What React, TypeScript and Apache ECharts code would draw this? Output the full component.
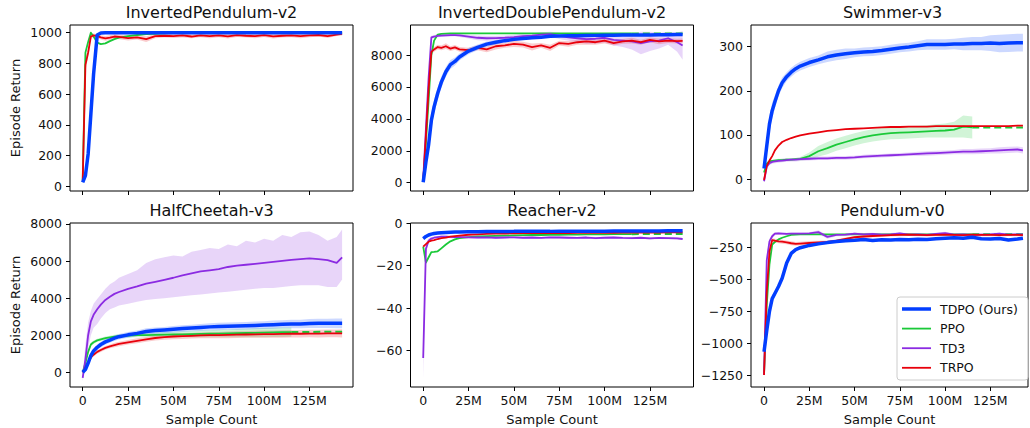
import React, { useEffect, useRef } from "react";
import * as echarts from "echarts";

// ---------- data ----------
const X = [0, 1.5, 3, 4.5, 6, 8, 10, 12.5, 15, 17.5, 20, 25, 30, 35, 40, 45, 50, 55, 60, 65, 70, 75, 80, 85, 90, 95, 100, 105, 110, 115, 120, 125, 130, 135, 140, 143];
const X_END = 143;
const X_TICKS = [0, 25, 50, 75, 100, 125];

const TITLES = ["InvertedPendulum-v2", "InvertedDoublePendulum-v2", "Swimmer-v3", "HalfCheetah-v3", "Reacher-v2", "Pendulum-v0"];
const SERIES_NAMES = ["TDPO (Ours)", "PPO", "TD3", "TRPO"];
const Y_LABEL = "Episode Return";
const X_LABEL = "Sample Count";

const Y_TICKS_1 = [0, 200, 400, 600, 800, 1000];
const Y_TICKS_2 = [0, 2000, 4000, 6000, 8000];
const Y_TICKS_3 = [0, 100, 200, 300];
const Y_TICKS_4 = [0, 2000, 4000, 6000, 8000];
const Y_TICKS_5 = [-60, -40, -20, 0];
const Y_TICKS_6 = [-1250, -1000, -750, -500, -250];

// InvertedPendulum-v2
const P1_TDPO = [25, 70, 210, 470, 730, 985, 998, 1000, 1000, 1000, 1000, 1000, 1000, 1000, 1000, 1000, 1000, 1000, 1000, 1000, 1000, 1000, 1000, 1000, 1000, 1000, 1000, 1000, 1000, 1000, 1000, 1000, 1000, 1000, 1000, 1000];
const P1_PPO = [40, 870, 940, 1000, 975, 935, 925, 930, 945, 958, 968, 978, 985, 990, 993, 995, 997, 998, 999, 1000, 1000, 1000, 1000, 1000, 1000, 1000, 1000, 1000, 1000, 1000];
const P1_PPO_TAIL = 1000;
const P1_TRPO = [30, 790, 870, 975, 982, 978, 970, 963, 968, 975, 972, 965, 970, 958, 978, 980, 978, 982, 975, 983, 978, 982, 976, 984, 980, 978, 984, 976, 980, 983, 978, 982, 985, 978, 988, 992];
const P1_TRPO_SD = [10, 40, 30, 15, 12, 12, 14, 15, 15, 14, 14, 16, 15, 18, 14, 12, 12, 14, 12, 12, 14, 12, 14, 12, 12, 14, 12, 14, 12, 12, 14, 12, 10, 12, 10, 10];

// InvertedDoublePendulum-v2
const P2_TDPO = [25, 1300, 2400, 3900, 4750, 5600, 6300, 6950, 7400, 7600, 7880, 8250, 8480, 8680, 8800, 8900, 8980, 9040, 9080, 9120, 9170, 9190, 9200, 9210, 9220, 9230, 9240, 9240, 9250, 9250, 9260, 9260, 9270, 9270, 9280, 9280];
const P2_TDPO_SD = [50, 400, 500, 500, 450, 400, 350, 300, 280, 250, 220, 200, 180, 160, 140, 120, 100, 90, 80, 70, 60, 60, 60, 60, 60, 60, 60, 60, 60, 60, 60, 60, 60, 60, 60, 60];
const P2_PPO = [100, 2500, 5200, 8000, 8900, 9280, 9330, 9340, 9350, 9350, 9350, 9350, 9350, 9350, 9350, 9350, 9350, 9350, 9350, 9350, 9350, 9350, 9350, 9350, 9350, 9350, 9350, 9350, 9350, 9350];
const P2_PPO_TAIL = 9350;
const P2_TD3 = [200, 3400, 6600, 9100, 9150, 9200, 9220, 9230, 9240, 9250, 9230, 9150, 9080, 9050, 9060, 9080, 9120, 9180, 9220, 9280, 9300, 9200, 9100, 9050, 9000, 9020, 9080, 8950, 8900, 8850, 8750, 8850, 8900, 9050, 8800, 8600];
const P2_TD3_SD = [100, 300, 200, 100, 100, 80, 80, 80, 80, 80, 100, 120, 150, 150, 150, 150, 150, 150, 150, 150, 150, 200, 200, 250, 300, 300, 300, 350, 400, 500, 700, 600, 500, 400, 600, 900];
const P2_TRPO = [50, 2950, 5900, 8200, 8350, 8500, 8450, 8550, 8400, 8480, 8350, 8300, 8450, 8350, 8550, 8600, 8700, 8650, 8500, 8600, 8450, 8750, 8700, 8800, 8850, 8800, 8900, 8750, 8850, 8900, 8800, 8950, 8850, 8900, 8870, 8880];
const P2_TRPO_SD = [50, 300, 300, 150, 150, 150, 150, 180, 150, 150, 150, 150, 150, 180, 200, 150, 200, 180, 220, 150, 200, 150, 180, 150, 200, 150, 180, 150, 150, 180, 150, 150, 180, 150, 150, 150];

// Swimmer-v3
const P3_TDPO = [24, 75, 125, 155, 175, 200, 218, 232, 242, 250, 256, 264, 270, 277, 281, 284, 286, 288, 289, 291, 294, 297, 299, 302, 305, 305, 305, 306, 306, 307, 307, 308, 307, 308, 309, 309];
const P3_TDPO_SD = [3, 20, 20, 18, 15, 12, 12, 10, 10, 10, 10, 10, 10, 12, 12, 12, 10, 10, 10, 10, 10, 10, 10, 10, 12, 12, 12, 12, 14, 15, 15, 18, 20, 20, 20, 20];
const P3_PPO = [15, 35, 40, 41, 42, 43, 43, 44, 44, 45, 46, 52, 63, 70, 78, 84, 90, 95, 99, 102, 104, 105, 106, 107, 108, 109, 110, 112, 119, 117];
const P3_PPO_SD = [3, 5, 4, 3, 3, 3, 3, 3, 3, 3, 4, 8, 12, 14, 14, 14, 14, 14, 14, 14, 14, 14, 14, 14, 14, 15, 16, 18, 25, 25];
const P3_PPO_TAIL = 117;
const P3_TD3 = [-5, 28, 36, 39, 40, 41, 42, 43, 44, 44, 45, 46, 47, 47, 48, 48, 49, 51, 52, 53, 54, 55, 56, 57, 58, 59, 60, 61, 62, 62, 63, 64, 65, 66, 67, 65];
const P3_TD3_SD = [3, 4, 4, 4, 4, 4, 4, 4, 4, 4, 4, 4, 4, 4, 4, 4, 4, 4, 4, 4, 4, 4, 4, 5, 5, 5, 5, 5, 6, 6, 6, 6, 7, 7, 7, 7];
const P3_TRPO = [-2, 30, 42, 52, 65, 76, 84, 89, 93, 96, 99, 103, 106, 109, 111, 113, 114, 115, 116, 117, 118, 118, 119, 119, 119, 120, 120, 120, 120, 120, 120, 120, 120, 120, 121, 121];

// HalfCheetah-v3
const P4_TDPO = [0, 150, 500, 900, 1150, 1350, 1500, 1640, 1740, 1840, 1920, 2020, 2100, 2200, 2250, 2280, 2320, 2360, 2390, 2420, 2450, 2470, 2490, 2500, 2510, 2530, 2550, 2570, 2590, 2600, 2610, 2630, 2640, 2640, 2640, 2640];
const P4_TDPO_SD = [20, 80, 150, 150, 150, 150, 150, 150, 150, 150, 150, 160, 160, 170, 170, 170, 180, 180, 180, 190, 190, 200, 200, 200, 200, 210, 210, 220, 220, 230, 230, 240, 250, 250, 260, 260];
const P4_PPO = [0, 500, 1100, 1500, 1620, 1720, 1780, 1840, 1880, 1920, 1950, 1980, 2000, 2010, 2020, 2030, 2040, 2050, 2060, 2070, 2080, 2090, 2100, 2110, 2120, 2130, 2140, 2150, 2160, 2170];
const P4_PPO_SD = [20, 80, 100, 100, 100, 90, 90, 90, 90, 100, 100, 100, 110, 120, 130, 140, 150, 160, 170, 180, 190, 200, 210, 220, 230, 240, 250, 250, 250, 250];
const P4_PPO_TAIL = 2190;
const P4_TD3 = [-300, 700, 2000, 2750, 3100, 3400, 3650, 3900, 4080, 4230, 4330, 4500, 4630, 4780, 4880, 4990, 5100, 5230, 5330, 5440, 5500, 5570, 5680, 5750, 5800, 5850, 5900, 5960, 6010, 6060, 6100, 6150, 6100, 6050, 5900, 6200];
const P4_TD3_LO = [-500, 500, 1300, 2000, 2400, 2600, 2900, 3200, 3400, 3500, 3600, 3700, 3800, 3900, 3950, 4000, 4050, 4100, 4150, 4200, 4250, 4300, 4350, 4400, 4450, 4500, 4550, 4550, 4600, 4650, 4700, 4700, 4700, 4600, 4600, 5000];
const P4_TD3_HI = [-100, 1500, 2700, 3300, 3700, 3950, 4200, 4500, 4750, 4900, 5100, 5300, 5500, 5900, 6100, 6200, 6300, 6250, 6500, 6600, 6700, 6650, 6900, 6800, 7100, 7000, 7200, 7100, 7400, 7300, 7550, 7600, 7400, 7100, 7300, 7700];
const P4_TRPO = [0, 250, 550, 800, 950, 1100, 1200, 1320, 1400, 1470, 1530, 1620, 1700, 1780, 1850, 1900, 1930, 1950, 1970, 1990, 2000, 2010, 2020, 2030, 2040, 2050, 2060, 2060, 2070, 2080, 2080, 2090, 2090, 2100, 2100, 2100];
const P4_TRPO_SD = [20, 60, 100, 100, 100, 100, 100, 100, 100, 120, 120, 120, 130, 130, 140, 140, 150, 150, 150, 160, 160, 170, 180, 180, 180, 190, 190, 200, 200, 200, 200, 200, 210, 210, 210, 220];

// Reacher-v2
const P5_TDPO = [-7.2, -6.2, -5.5, -5.1, -4.8, -4.6, -4.4, -4.3, -4.2, -4.1, -4.1, -4.0, -4.0, -3.9, -3.9, -3.9, -3.8, -3.8, -3.8, -3.8, -3.8, -3.7, -3.7, -3.7, -3.7, -3.7, -3.7, -3.6, -3.6, -3.6, -3.6, -3.6, -3.6, -3.5, -3.5, -3.5];
const P5_PPO = [-11, -18.5, -16, -13.6, -13.5, -13.2, -11.8, -10, -8.5, -7.6, -7.0, -6.5, -6.2, -6.0, -5.9, -5.8, -5.7, -5.6, -5.5, -5.5, -5.4, -5.4, -5.3, -5.3, -5.2, -5.2, -5.2, -5.1, -5.1, -5.1];
const P5_PPO_TAIL = -5.0;
const P5_TD3 = [-63.5, -12, -8.2, -7.2, -6.8, -6.5, -6.3, -6.3, -6.4, -6.5, -6.5, -6.6, -6.7, -6.6, -6.8, -6.7, -6.6, -6.8, -6.7, -6.9, -6.6, -6.7, -6.8, -6.9, -6.7, -7.0, -6.8, -6.7, -6.9, -7.0, -6.8, -7.1, -6.9, -7.0, -7.1, -7.4];
const P5_TD3_SD = [10, 3, 1, 0.6, 0.5, 0.5, 0.5, 0.5, 0.5, 0.5, 0.5, 0.5, 0.5, 0.5, 0.5, 0.5, 0.5, 0.5, 0.5, 0.5, 0.5, 0.5, 0.5, 0.5, 0.5, 0.5, 0.5, 0.5, 0.5, 0.5, 0.5, 0.5, 0.5, 0.5, 0.5, 0.5];
const P5_TRPO = [-11, -9.8, -8.7, -8.2, -7.9, -7.4, -7.0, -6.7, -6.3, -6.0, -5.8, -5.4, -5.2, -5.0, -4.9, -4.8, -4.7, -4.6, -4.6, -4.6, -4.6, -4.6, -4.6, -4.5, -4.5, -4.5, -4.5, -4.5, -4.4, -4.4, -4.4, -4.4, -4.4, -4.3, -4.3, -4.3];

// Pendulum-v0
const P6_TDPO = [-1067, -900, -750, -650, -610, -555, -490, -370, -295, -265, -250, -232, -220, -210, -202, -196, -192, -186, -194, -188, -190, -185, -188, -183, -186, -180, -176, -172, -176, -168, -180, -182, -178, -190, -182, -175];
const P6_TDPO_SD = [20, 30, 30, 30, 25, 20, 20, 15, 15, 12, 12, 10, 10, 10, 10, 10, 10, 10, 10, 10, 10, 10, 10, 10, 10, 10, 10, 10, 10, 10, 10, 10, 10, 10, 10, 10];
const P6_PPO = [-1240, -700, -380, -225, -205, -185, -172, -160, -150, -147, -146, -145, -145, -145, -145, -145, -145, -145, -145, -145, -145, -145, -145, -145, -145, -145, -145, -145, -145, -145];
const P6_PPO_TAIL = -145;
const P6_TD3 = [-1250, -350, -200, -160, -140, -138, -140, -142, -140, -140, -140, -138, -128, -165, -150, -148, -140, -145, -142, -148, -145, -138, -148, -145, -150, -142, -135, -148, -145, -150, -148, -145, -140, -148, -145, -145];
const P6_TD3_SD = [20, 40, 20, 15, 12, 10, 10, 10, 10, 10, 10, 10, 15, 15, 10, 10, 10, 10, 10, 10, 10, 10, 10, 10, 10, 10, 10, 10, 10, 10, 10, 10, 10, 10, 10, 10];
const P6_TRPO = [-1250, -600, -280, -190, -195, -200, -203, -208, -215, -220, -218, -213, -208, -205, -195, -180, -168, -162, -158, -155, -152, -150, -148, -150, -152, -150, -148, -150, -152, -148, -150, -150, -152, -150, -150, -152];
const P6_TRPO_SD = [30, 30, 20, 15, 15, 15, 15, 15, 15, 15, 15, 15, 12, 12, 10, 10, 10, 10, 10, 10, 10, 10, 10, 10, 10, 10, 10, 10, 10, 10, 10, 10, 10, 10, 10, 10];

// ---------- styling / layout ----------
const C_BLUE = "#023eff";
const C_GREEN = "#1ac938";
const C_PURPLE = "#8b2be2";
const C_RED = "#e8000b";
const FONT = "DejaVu Sans";
const TXT = "#111";

type Band = { lo: number[]; hi: number[] } | null;
type Panel = {
  title: string;
  left: number; top: number; width: number; height: number; center: number;
  xMin: number; xMax: number; yMin: number; yMax: number;
  yTicks: number[];
  tdpo: number[]; tdpoBand: Band;
  ppo: number[]; ppoBand: Band; ppoTail: number;
  td3: number[] | null; td3Band: Band;
  trpo: number[]; trpoBand: Band;
};

const sdBand = (v: number[], sd: number[] | null): Band =>
  sd ? { lo: v.map((y, i) => y - sd[i]), hi: v.map((y, i) => y + sd[i]) } : null;

const PANELS: Panel[] = [
  { title: TITLES[0], left: 70, top: 25, width: 283, height: 166, center: 211.5, xMin: -7, xMax: 149, yMin: -31, yMax: 1050, yTicks: Y_TICKS_1,
    tdpo: P1_TDPO, tdpoBand: null, ppo: P1_PPO, ppoBand: null, ppoTail: P1_PPO_TAIL, td3: null, td3Band: null,
    trpo: P1_TRPO, trpoBand: sdBand(P1_TRPO, P1_TRPO_SD) },
  { title: TITLES[1], left: 410.5, top: 25, width: 283, height: 166, center: 552, xMin: -7, xMax: 149, yMin: -520, yMax: 9880, yTicks: Y_TICKS_2,
    tdpo: P2_TDPO, tdpoBand: sdBand(P2_TDPO, P2_TDPO_SD), ppo: P2_PPO, ppoBand: null, ppoTail: P2_PPO_TAIL,
    td3: P2_TD3, td3Band: sdBand(P2_TD3, P2_TD3_SD), trpo: P2_TRPO, trpoBand: sdBand(P2_TRPO, P2_TRPO_SD) },
  { title: TITLES[2], left: 751, top: 25, width: 277, height: 166, center: 892.5, xMin: -7.2, xMax: 145.8, yMin: -27, yMax: 349, yTicks: Y_TICKS_3,
    tdpo: P3_TDPO, tdpoBand: sdBand(P3_TDPO, P3_TDPO_SD), ppo: P3_PPO, ppoBand: sdBand(P3_PPO, P3_PPO_SD), ppoTail: P3_PPO_TAIL,
    td3: P3_TD3, td3Band: sdBand(P3_TD3, P3_TD3_SD), trpo: P3_TRPO, trpoBand: null },
  { title: TITLES[3], left: 70, top: 223, width: 283, height: 164, center: 211.5, xMin: -7, xMax: 149, yMin: -793, yMax: 8053, yTicks: Y_TICKS_4,
    tdpo: P4_TDPO, tdpoBand: sdBand(P4_TDPO, P4_TDPO_SD), ppo: P4_PPO, ppoBand: sdBand(P4_PPO, P4_PPO_SD), ppoTail: P4_PPO_TAIL,
    td3: P4_TD3, td3Band: { lo: P4_TD3_LO, hi: P4_TD3_HI }, trpo: P4_TRPO, trpoBand: sdBand(P4_TRPO, P4_TRPO_SD) },
  { title: TITLES[4], left: 410.5, top: 223, width: 283, height: 164, center: 552, xMin: -7, xMax: 149, yMin: -77.2, yMax: 0.15, yTicks: Y_TICKS_5,
    tdpo: P5_TDPO, tdpoBand: null, ppo: P5_PPO, ppoBand: null, ppoTail: P5_PPO_TAIL,
    td3: P5_TD3, td3Band: sdBand(P5_TD3, P5_TD3_SD), trpo: P5_TRPO, trpoBand: null },
  { title: TITLES[5], left: 751, top: 223, width: 277, height: 164, center: 892.5, xMin: -7.2, xMax: 145.8, yMin: -1344, yMax: -56, yTicks: Y_TICKS_6,
    tdpo: P6_TDPO, tdpoBand: sdBand(P6_TDPO, P6_TDPO_SD), ppo: P6_PPO, ppoBand: null, ppoTail: P6_PPO_TAIL,
    td3: P6_TD3, td3Band: sdBand(P6_TD3, P6_TD3_SD), trpo: P6_TRPO, trpoBand: sdBand(P6_TRPO, P6_TRPO_SD) },
];

const fmtY = (v: number) => (v < 0 ? "\u2212" + Math.abs(v) : String(v));
const fmtX = (v: number) => (v === 0 ? "0" : v + "M");

function lineSeries(gi: number, ys: number[], color: string, width: number, z: number, dashed = false, xs: number[] = X) {
  return {
    type: "line", xAxisIndex: gi, yAxisIndex: gi, z, silent: true,
    symbol: "none", showSymbol: false, animation: false,
    data: ys.map((y, i) => [xs[i], y]),
    lineStyle: { color, width, type: dashed ? [7, 4] : "solid", cap: "butt", join: "round" },
    itemStyle: { color },
  };
}

// shaded band: one polygon through the axes' own coordinate transform
function bandSeries(gi: number, band: Band, color: string, opacity = 0.2) {
  if (!band) return [];
  const xs = X.slice(0, band.lo.length);
  const data = xs.map((x, i) => [x, band.lo[i], band.hi[i]]);
  return [{
    type: "custom", xAxisIndex: gi, yAxisIndex: gi, z: 1, silent: true, animation: false,
    encode: { x: 0, y: [1, 2] },
    data,
    renderItem: (params: any, api: any) => {
      if (params.dataIndex !== 0) return null;
      const upper = data.map((d) => api.coord([d[0], d[2]]));
      const lower = data.map((d) => api.coord([d[0], d[1]])).reverse();
      const cs = params.coordSys;
      return {
        type: "polygon",
        shape: { points: upper.concat(lower) },
        style: { fill: color, opacity, stroke: "none" },
        clipPath: { type: "rect", shape: { x: cs.x, y: cs.y, width: cs.width, height: cs.height } },
      };
    },
  }];
}

function buildOption() {
  const series: any[] = [];
  PANELS.forEach((p, gi) => {
    series.push(...bandSeries(gi, p.ppoBand, C_GREEN));
    series.push(...bandSeries(gi, p.td3Band, C_PURPLE));
    series.push(...bandSeries(gi, p.trpoBand, C_RED));
    series.push(...bandSeries(gi, p.tdpoBand, C_BLUE));
    const n = p.ppo.length;
    series.push(lineSeries(gi, p.ppo, C_GREEN, 1.8, 3, false, X.slice(0, n)));
    series.push(lineSeries(gi, [p.ppo[n - 1], p.ppoTail], C_GREEN, 2, 3, true, [X[n - 1], X_END]));
    if (p.td3) series.push(lineSeries(gi, p.td3, C_PURPLE, 1.8, 4));
    series.push(lineSeries(gi, p.trpo, C_RED, 1.8, 5));
    series.push(lineSeries(gi, p.tdpo, C_BLUE, 3.5, 6));
  });

  const legendX = 897, legendY = 297;
  const colors = [C_BLUE, C_GREEN, C_PURPLE, C_RED];
  const widths = [3.5, 1.8, 1.8, 1.8];
  const graphic: any[] = [
    { type: "rect", z: 100, shape: { x: legendX, y: legendY, width: 131, height: 83, r: 3 },
      style: { fill: "rgba(255,255,255,0.85)", stroke: "#cccccc", lineWidth: 1 } },
  ];
  SERIES_NAMES.forEach((name, i) => {
    const cy = legendY + 12 + i * 19.6;
    graphic.push({ type: "line", z: 101, shape: { x1: legendX + 5, y1: cy, x2: legendX + 34, y2: cy },
      style: { stroke: colors[i], lineWidth: widths[i] } });
    graphic.push({ type: "text", z: 101, x: legendX + 43, y: cy,
      style: { text: name, fill: TXT, fontSize: 12.5, fontFamily: FONT, verticalAlign: "middle", align: "left" } });
  });

  return {
    animation: false,
    backgroundColor: "#ffffff",
    textStyle: { fontFamily: FONT },
    title: PANELS.map((p) => ({
      text: p.title, left: p.center, top: p.top - 21, textAlign: "center", padding: 0,
      textStyle: { fontSize: 16, fontWeight: "normal", fontFamily: FONT, color: TXT },
    })),
    grid: PANELS.map((p) => ({
      left: p.left, top: p.top, width: p.width, height: p.height, containLabel: false,
      show: true, borderColor: "#000", borderWidth: 1, backgroundColor: "transparent",
    })),
    xAxis: PANELS.map((p, i) => ({
      type: "value", gridIndex: i, min: p.xMin, max: p.xMax,
      axisLine: { show: false, onZero: false },
      axisTick: { show: true, customValues: X_TICKS, length: 4, lineStyle: { color: "#000", width: 1 } },
      axisLabel: { show: i >= 3, customValues: X_TICKS, formatter: fmtX, margin: 7, fontSize: 12.5, color: TXT, fontFamily: FONT },
      splitLine: { show: false },
      name: i >= 3 ? X_LABEL : "", nameLocation: "middle", nameGap: 26,
      nameTextStyle: { fontSize: 13, color: TXT, fontFamily: FONT },
    })),
    yAxis: PANELS.map((p, i) => ({
      type: "value", gridIndex: i, min: p.yMin, max: p.yMax,
      axisLine: { show: false, onZero: false },
      axisTick: { show: true, customValues: p.yTicks, length: 4, lineStyle: { color: "#000", width: 1 } },
      axisLabel: { show: true, customValues: p.yTicks, formatter: fmtY, margin: 8, fontSize: 12.5, color: TXT, fontFamily: FONT },
      splitLine: { show: false },
      name: i % 3 === 0 ? Y_LABEL : "", nameLocation: "middle", nameRotate: 90, nameGap: 48,
      nameTextStyle: { fontSize: 13, color: TXT, fontFamily: FONT },
    })),
    series,
    graphic,
  };
}

export default function App() {
  const ref = useRef<HTMLDivElement>(null);
  useEffect(() => {
    if (!ref.current) return;
    const chart = echarts.init(ref.current, null, { renderer: "svg" });
    chart.setOption(buildOption() as any);
    return () => chart.dispose();
  }, []);
  return (
    <div
      ref={ref}
      style={{ position: "fixed", left: 0, top: 0, width: 1030, height: 428, background: "#fff" }}
    />
  );
}
